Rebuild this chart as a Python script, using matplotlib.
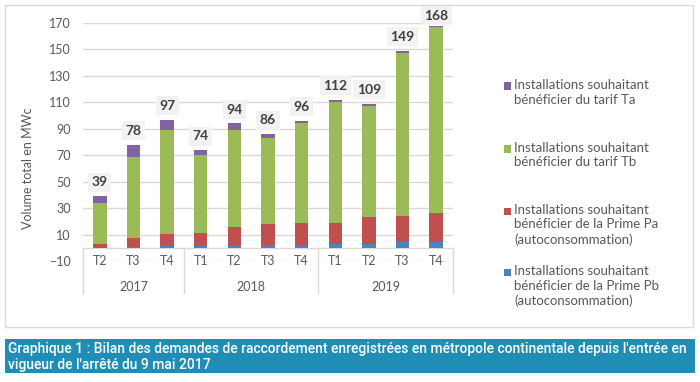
import matplotlib
matplotlib.use('Agg')
import matplotlib.pyplot as plt
from matplotlib.patches import Rectangle
from matplotlib.lines import Line2D
import numpy as np

plt.rcParams['font.family'] = ['Lato', 'DejaVu Sans']

quarters = ['T2', 'T3', 'T4', 'T1', 'T2', 'T3', 'T4', 'T1', 'T2', 'T3', 'T4']
years = ['2017', '2018', '2019']
year_sizes = [3, 4, 4]

prime_pb = [0.2, 0.8, 1.0, 1.0, 1.2, 2.0, 2.0, 2.5, 3.0, 5.0, 4.5]
prime_pa = [2.3, 6.5, 9.5, 10.5, 14.5, 16.0, 16.5, 16.5, 20.5, 19.0, 21.5]
tarif_tb = [31.0, 61.5, 78.5, 58.5, 73.5, 65.0, 76.0, 91.0, 84.0, 123.5, 141.0]
tarif_ta = [5.5, 9.2, 8.0, 4.0, 4.8, 3.0, 1.5, 2.0, 1.5, 1.5, 1.0]
totals = [39, 78, 97, 74, 94, 86, 96, 112, 109, 149, 168]

series = [
    (prime_pb, '#4F81BD', 'Installations souhaitant\nbénéficier de la Prime Pb\n(autoconsommation)'),
    (prime_pa, '#C0504D', 'Installations souhaitant\nbénéficier de la Prime Pa\n(autoconsommation)'),
    (tarif_tb, '#9BBB59', 'Installations souhaitant\nbénéficier du tarif Tb'),
    (tarif_ta, '#8064A2', 'Installations souhaitant\nbénéficier du tarif Ta'),
]

GREY = '#595959'
W, H = 700, 382

fig = plt.figure(figsize=(7, 3.82), dpi=100)

# outer frame of the chart, kept behind the axes
fig.patches.append(Rectangle((5 / W, 1 - 327 / H), 688 / W, 322 / H,
                             transform=fig.transFigure, facecolor='white',
                             edgecolor='#D9D9D9', linewidth=1.0, zorder=-5))

ax = fig.add_axes([83 / W, 1 - 261 / H, 370 / W, 238 / H])
ax.set_facecolor('none')
ax.set_zorder(2)

x = np.arange(len(quarters))
bottom = np.zeros(len(quarters))
for vals, color, label in series:
    ax.bar(x, vals, bottom=bottom, width=0.4, color=color, zorder=3)
    bottom += np.array(vals)

ymax = 170
for xi, tot in zip(x, totals):
    # like Excel, the label is pushed down when it would leave the plot area
    off = 10 if tot < ymax - 8 else 7
    ax.annotate(str(tot), (xi, tot), xytext=(0, off), textcoords='offset points',
                ha='center', va='center', fontsize=10, fontweight='bold',
                color='#404040', zorder=5, annotation_clip=False,
                bbox=dict(boxstyle='square,pad=0.25', facecolor='#F2F2F2',
                          edgecolor='none'))

ax.set_xlim(-0.5, len(quarters) - 0.5)
ax.set_ylim(-10, ymax)
ax.set_yticks(np.arange(-10, ymax + 1, 20))
ax.yaxis.grid(True, color='#D9D9D9', linewidth=1.0, zorder=0)
ax.set_axisbelow(True)
ax.tick_params(axis='y', length=0, labelsize=9, labelcolor=GREY, pad=9)
ax.set_xticks([])
for s in ax.spines.values():
    s.set_visible(False)

ax.axhline(0, color='#D9D9D9', linewidth=1.0, zorder=2)

# quarter labels sit on the -10 gridline
for xi, q in zip(x, quarters):
    ax.text(xi, -10, q, ha='center', va='center', fontsize=9, color=GREY,
            zorder=4, bbox=dict(boxstyle='square,pad=0.2', facecolor='white',
                                edgecolor='none'))

# year group separators and labels
edges = np.concatenate([[0], np.cumsum(year_sizes)]) - 0.5
for e in edges:
    ax.add_line(Line2D([e, e], [0, -34], color='#D9D9D9',
                       linewidth=1.0, clip_on=False, zorder=2))
for i, yr in enumerate(years):
    mid = (edges[i] + edges[i + 1]) / 2
    ax.text(mid, -29.5, yr, ha='center', va='center', fontsize=9, color=GREY)

fig.text(28 / W, 1 - 168 / H, 'Volume total en MWc', rotation=90,
         ha='center', va='center', fontsize=9, color=GREY)

# legend drawn by hand (top to bottom: Ta, Tb, Pa, Pb)
legend_y = [86, 149, 211, 272]
for (vals, color, label), ly in zip(series[::-1], legend_y):
    fig.patches.append(Rectangle((504 / W, 1 - (ly + 3.5) / H), 7 / W, 7 / H,
                                 transform=fig.transFigure, facecolor=color,
                                 edgecolor='none'))
    fig.text(514 / W, 1 - (ly - 7) / H, label, ha='left', va='top',
             fontsize=9.5, color=GREY, linespacing=1.25)

# caption banner
fig.patches.append(Rectangle((5 / W, 1 - 373 / H), 690 / W, 34 / H,
                             transform=fig.transFigure, facecolor='#1F8DB5',
                             edgecolor='none'))
fig.text(8 / W, 1 - 357 / H,
         "Graphique 1 : Bilan des demandes de raccordement enregistrées en métropole continentale depuis l'entrée en\n"
         "vigueur de l'arrêté du 9 mai 2017",
         ha='left', va='center', fontsize=10, color='white', fontweight='medium',
         family=['Liberation Sans Narrow', 'Roboto', 'DejaVu Sans'], linespacing=1.1)

fig.savefig('out.png', dpi=100)
